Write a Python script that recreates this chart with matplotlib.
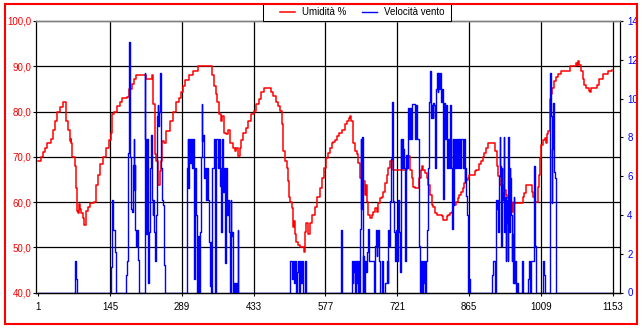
import matplotlib
matplotlib.use("Agg")
import matplotlib.pyplot as plt
from matplotlib.patches import Rectangle
from matplotlib.lines import Line2D

# ---------------- data ----------------
hum_idx = [1, 7, 10, 14, 18, 26, 30, 35, 39, 44, 51, 56, 57, 61, 64, 66, 67, 69, 74, 77, 79, 81, 83, 85, 87, 91, 93, 96, 97, 100,
           104, 113, 116, 120, 124, 131, 136, 142, 146, 149, 152, 158, 164, 169, 178, 183, 188, 193, 198, 215, 218, 228, 229,
           232, 235, 238, 241, 245, 247, 250, 254, 258, 265, 272, 278, 283,
           288, 291, 296, 304, 311, 322, 348, 350, 353, 357, 360, 363, 367, 369, 373, 378, 381, 385, 392, 395, 398, 402, 405,
           407, 412, 418, 422, 428, 433, 438, 443, 448, 454, 463, 467, 472, 477, 482, 485, 489, 492, 495, 499, 501, 503, 506,
           509, 511, 513, 515, 518, 522, 527, 532, 534, 536, 539, 542, 546, 551, 556, 561, 566, 570, 574, 578,
           583, 586, 590, 593, 596, 601, 605, 610, 616, 621, 625, 626, 629, 632, 633, 636, 640, 643, 646, 650, 653, 656, 658,
           661, 663, 666, 670, 673, 676, 680, 683, 686, 690, 693, 696, 700, 703, 706, 710, 713, 736, 740, 743, 746, 750, 753,
           756, 761, 765, 768, 771, 773, 777, 780, 783, 786, 790, 793, 796, 801, 806, 810, 812, 816, 820, 823, 826, 830, 833,
           838, 843, 846, 850, 853, 856, 860, 863, 866,
           877, 880, 886, 890, 893, 896, 900, 904, 915, 917, 920, 922, 924, 927, 931, 933, 936, 939, 942, 945, 949, 952, 954,
           971, 974, 976, 979, 989, 991, 994, 998, 1003, 1006, 1008, 1010, 1014, 1018, 1020, 1022, 1024, 1027, 1028, 1030,
           1032, 1036, 1039, 1043, 1049, 1068, 1079, 1081, 1084, 1086, 1089, 1093, 1096, 1099, 1105, 1107, 1110, 1121, 1126,
           1133, 1143, 1152]
hum_val = [69, 70, 71, 72, 73, 74, 76, 78, 80, 81, 82, 82, 78, 76, 73.5, 74, 73, 70, 68, 63, 58, 57.5, 59.5, 58.5, 57.5, 56.5, 55, 55, 58, 59,
           59.7, 60, 63.8, 66, 68.3, 70, 72, 73.8, 75.3, 79.4, 80, 81.2, 82, 83, 83.2, 85, 86, 87.2, 88.1, 88.1, 87.2, 87.2, 88,
           81.6, 70.5, 69, 63.8, 66.8, 69, 73.5, 73, 75.7, 78, 80, 82, 83,
           84.4, 85.7, 87, 88, 89, 90, 90, 88, 85.7, 83.8, 82, 79.4, 78, 79, 75.3, 75, 76, 73, 72, 71.2, 72, 70.1, 72,
           73.6, 75.3, 76.4, 78, 79.4, 80.2, 81.6, 82.7, 84.2, 85.2, 85.2, 84.2, 83.5, 82, 81.2, 80.2, 77.2, 71.2, 69, 67.5, 64.6, 61.2, 60.1,
           58.6, 54.5, 55.7, 53, 51.2, 50.5, 50, 50, 49, 53.4, 55.3, 53, 55.3, 57.1, 59, 61.2, 63.1, 65.3, 67.5, 69.7,
           70.9, 72, 73, 73.3, 73.8, 74.6, 75.3, 76, 77.2, 78, 78.6, 79, 78, 76, 73, 71.2, 70.5, 68.6, 65.3, 66, 64.6, 61.6, 63.8,
           60, 57.1, 56.4, 57.1, 57.9, 58.6, 57.9, 59.7, 60.8, 61.2, 62.3, 64.2, 66, 67.5, 69, 69.7, 67.1, 67.1, 69, 70.1, 67.1, 65.3, 63.4,
           63, 63, 65.3, 67.1, 67.9, 67.1, 66.4, 65.3, 63.8, 61.6, 59.4, 59, 57.5, 57.1, 57.1, 56.8, 56, 56, 56.8, 57.1, 57.5, 57.9, 59.4,
           60.1, 60.8, 61.6, 62.3, 63, 64.2, 64.9, 65.3, 66,
           66.8, 67.1, 68.3, 69, 69.9, 70.9, 72, 73.1, 73.1, 71.2, 71.2, 67.9, 65.7, 63.8, 63, 63.8, 62.7, 61.6, 60.8, 60.5, 60.1, 57.9, 59.7,
           59.7, 61.2, 62, 63.8, 63.8, 62.3, 61.2, 60.1, 63.4, 66, 69.7, 72.7, 73.8, 74.2, 73.1, 75, 75.7, 76.4, 82.7, 83.8,
           85.3, 86.8, 87.6, 88.3, 89, 90, 90.7, 90.2, 91.1, 90.2, 89, 87.2, 85.9, 85.2, 84.6, 84.2, 85.2, 85.9, 87.2,
           88.3, 89, 89.2]

wind_idx = [1, 74, 76, 78,
            146, 149, 150, 154, 156,
            176, 178, 180, 182, 184, 186, 188, 190, 192, 193, 195, 196, 198, 199, 201, 203,
            215, 216, 218, 220, 221, 223, 224, 226, 228, 230, 231, 232, 234, 236, 237, 239, 241, 242, 244, 246, 247, 248, 250,
            252, 254, 255,
            300, 301, 302, 304, 306, 308, 310, 311, 313, 314, 316, 318, 320, 321, 323, 325, 327, 329, 330, 331, 333, 335, 337,
            339, 341, 344, 345, 347, 348, 349, 353, 355, 356, 357, 361, 363, 365, 367, 368, 370, 372, 373, 375, 377, 379, 381,
            383, 385, 387, 388, 390, 391, 393, 395, 397, 399, 401, 402,
            506, 509, 511, 513, 515, 517, 520, 522, 524, 526, 529, 531, 533, 536, 538,
            608, 609, 610,
            630, 632, 633, 634, 636, 638, 640, 641, 643, 644, 645,
            646, 648, 649, 650, 652, 653, 655, 657, 658, 660, 661, 662, 664, 674, 676, 678, 680, 681, 683, 685, 686, 690, 693,
            696, 700, 702, 703, 704, 706, 708, 710, 712, 713, 715, 717, 718, 720, 721, 722, 724, 726, 728, 729, 730, 732, 733,
            735, 736, 738, 740, 742, 743, 744, 746, 748, 750, 756, 758, 761, 765, 766, 768, 770, 772, 774, 776, 777, 778, 780,
            781, 783, 785, 786, 788, 789, 790, 792, 793, 794, 796, 798, 800, 802, 803, 805, 806, 808, 810, 812, 813, 814, 816,
            818, 820, 821, 823, 825, 827, 829, 830, 832, 833, 835, 837, 839, 841, 843, 845, 846, 848, 850, 853, 855, 857, 858,
            860, 861, 863, 864, 866, 867,
            912, 914, 917, 920, 921, 923, 924, 926, 927, 928, 930, 931, 932, 934, 935, 936, 938, 939, 940, 942, 943, 944, 946,
            947, 948, 949, 951, 952, 953, 955, 956, 957, 959, 962, 963, 972, 974, 984, 985, 987, 990, 996, 998, 999, 1000,
            1014, 1015, 1017, 1027, 1028, 1029, 1031, 1032, 1033, 1035, 1036, 1038, 1039, 1040, 1153]
wind_val = [0, 1.6, 0.7, 0,
            1.3, 4.75, 3.2, 2.1, 0,
            0.9, 1.6, 7.2, 12.9, 7.0, 4.3, 4.15, 6.6, 7.9, 5.3, 6.6, 3.2, 2.4, 3.2, 1.7, 0,
            11.3, 7.9, 3.0, 7.9, 0.5, 1.05, 3.1, 6.4, 8.1, 4.75, 4.0, 4.75, 3.1, 1.6, 4.0, 9.1, 9.66, 8.6, 9.3, 11.3, 9.1, 6.4, 4.75,
            4.5, 1.4, 0,
            6.4, 7.9, 5.4, 7.9, 6.7, 7.9, 6.4, 7.9, 6.4, 0.7, 6.4, 4.0, 0, 2.9, 0, 3.1, 7.0, 9.7, 7.8, 8.1, 5.9, 6.4, 4.75,
            6.4, 4.75, 2.6, 0.35, 2.6, 0, 6.4, 7.9, 6.9, 0, 7.9, 6.4, 7.9, 5.5, 6.4, 3.1, 7.9, 5.2, 6.4, 1.5, 6.4, 4.0, 4.75,
            3.1, 0, 4.75, 2.9, 3.1, 0, 0.5, 0, 0.5, 0, 3.2, 0,
            1.6, 0.7, 1.6, 0.5, 1.6, 0, 1.05, 1.6, 0, 1.6, 0.5, 1.6, 0, 1.6, 0,
            2.6, 3.2, 0,
            1.6, 0.5, 1.05, 1.6, 0, 1.6, 0.5, 1.6, 0, 1.6, 0,
            3.3, 7.9, 4.3, 8.0, 0, 1.9, 0, 1.6, 1.05, 1.6, 2.1, 3.3, 1.6, 0, 2.4, 3.2, 1.9, 2.4, 3.2, 1.6, 0, 1.6, 0,
            0.5, 1.6, 0.5, 3.2, 2.4, 4.7, 6.9, 9.8, 9.4, 4.7, 3.1, 1.6, 3.2, 2.4, 1.6, 4.75, 3.1, 1.05, 7.9, 6.4, 7.9, 6.4, 7.4,
            6.4, 1.6, 7.1, 6.4, 8.5, 9.5, 7.9, 9.5, 7.9, 9.7, 7.9, 9.66, 7.9, 2.4, 0, 1.6, 0, 1.6, 0.5, 1.6, 0, 1.6, 2.4,
            3.2, 6.4, 9.8, 11.4, 9.75, 9.0, 9.66, 9.0, 9.75, 9.66, 6.4, 10.5, 11.3, 10.35, 11.3, 10.5, 11.3, 9.8, 10.5, 9.66, 4.8, 9.75, 7.9,
            9.66, 7.9, 6.4, 7.9, 6.4, 9.66, 6.4, 3.3, 7.9, 4.5, 7.9, 6.4, 7.9, 6.4, 7.9, 6.4, 7.9, 6.4, 7.9, 6.4, 7.9, 5.7, 6.4,
            5.0, 4.0, 3.1, 0, 0.7, 0,
            0.9, 1.6, 0, 4.75, 4.3, 4.75, 3.1, 6.0, 8.0, 6.5, 2.4, 6.4, 5.2, 4.75, 8.0, 3.1, 4.9, 1.6, 4.75, 3.6, 1.6, 8.0, 3.1,
            6.4, 5.9, 4.0, 1.6, 3.0, 0.5, 4.9, 0.5, 1.6, 0, 0.5, 0, 1.6, 0, 0.7, 1.6, 0, 1.6, 6.5, 2.4, 1.6, 0,
            1.6, 0.9, 0, 0.5, 11.3, 9.1, 4.6, 7.4, 9.75, 6.4, 6.2, 5.9, 0.9, 0, 0]

x_ticks = [1, 145, 289, 433, 577, 721, 865, 1009, 1153]
x_labels = ["1", "145", "289", "433", "577", "721", "865", "1009", "1153"]
y1_ticks = [40, 50, 60, 70, 80, 90, 100]
y1_labels = ["40,0", "50,0", "60,0", "70,0", "80,0", "90,0", "100,0"]
y2_ticks = [0, 2, 4, 6, 8, 10, 12, 14]
y2_labels = ["0", "2", "4", "6", "8", "10", "12", "14"]
series_names = ["Umidità %", "Velocità vento"]

# ---------------- figure ----------------
plt.rcParams['font.family'] = ['Liberation Sans', 'DejaVu Sans']
W, H = 642, 329
fig = plt.figure(figsize=(W / 100, H / 100), dpi=100)
fig.patch.set_facecolor('white')

ax1 = fig.add_axes([36.3 / W, (H - 292.5) / H, (619.5 - 36.3) / W, 271.5 / H])
ax2 = ax1.twinx()

RED = '#ff0000'
BLUE = '#0000ff'

ax1.plot(hum_idx, hum_val, color=RED, lw=1.1, drawstyle='steps-post')
ax2.plot(wind_idx, wind_val, color=BLUE, lw=1.0, drawstyle='steps-post')

ax1.set_xlim(-3, 1167)
ax1.set_ylim(40, 100)
ax2.set_ylim(0, 14)

ax1.set_xticks(x_ticks)
ax1.set_xticklabels(x_labels)
ax1.set_yticks(y1_ticks)
ax1.set_yticklabels(y1_labels)
ax2.set_yticks(y2_ticks)
ax2.set_yticklabels(y2_labels)

ax1.tick_params(axis='y', colors='black', labelcolor=RED, labelsize=7, length=2, width=0.8, pad=1.5, direction='out')
ax1.tick_params(axis='x', colors='black', labelcolor='black', labelsize=7, length=2.2, width=0.8, pad=5, direction='out')
ax2.tick_params(axis='y', colors='black', labelcolor=BLUE, labelsize=7, length=2, width=0.8, pad=3.5, direction='out')

ax1.grid(True, color='black', lw=0.9)
for gl, t in zip(ax1.yaxis.get_gridlines(), y1_ticks):
    if t in (40, 100):
        gl.set_visible(False)
for gl, t in zip(ax1.xaxis.get_gridlines(), x_ticks):
    if t == 1:
        gl.set_visible(False)

for ax in (ax1, ax2):
    ax.spines['top'].set_color('#808080')
    ax.spines['top'].set_linewidth(1.0)
    ax.spines['bottom'].set_color('black')
    ax.spines['bottom'].set_linewidth(0.9)
ax1.spines['left'].set_color('black')
ax1.spines['left'].set_linewidth(0.9)
ax1.spines['right'].set_visible(False)
ax2.spines['left'].set_visible(False)
ax2.spines['right'].set_color('black')
ax2.spines['right'].set_linewidth(0.9)

# legend box
fig.patches.append(Rectangle((263 / W, (H - 20.5) / H), (451 - 263) / W, 16.5 / H,
                             transform=fig.transFigure, facecolor='white', edgecolor='black', lw=0.75, zorder=3))
handles = [Line2D([], [], color=RED, lw=1.1), Line2D([], [], color=BLUE, lw=1.0)]
leg = fig.legend(handles, series_names, loc='center', bbox_to_anchor=(362.5 / W, (H - 12.3) / H),
                 ncol=2, frameon=False, fontsize=7, handlelength=1.55, handletextpad=0.7,
                 columnspacing=1.6, borderpad=0, borderaxespad=0)
leg.set_zorder(4)

# outer red frame
fig.patches.append(Rectangle((4.5 / W, 5.3 / H), (637 - 4.5) / W, 319.4 / H,
                             transform=fig.transFigure, fill=False, edgecolor=RED, lw=1.5, zorder=10))

fig.savefig('out.png', dpi=100)
